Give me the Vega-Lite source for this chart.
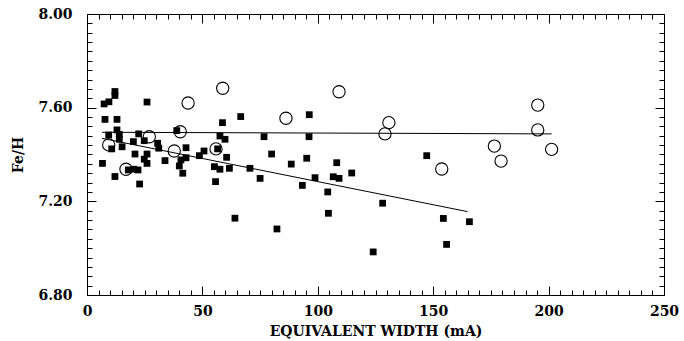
{
  "$schema": "https://vega.github.io/schema/vega-lite/v6.json",
  "width": 577,
  "height": 281,
  "autosize": {"type": "none"},
  "padding": {"left": 87, "top": 14, "right": 20, "bottom": 46},
  "background": "white",
  "config": {
    "view": {"stroke": "black", "strokeWidth": 1},
    "axis": {
      "grid": false,
      "domain": false,
      "ticks": true,
      "labelColor": "black",
      "titleColor": "black",
      "labelFont": "DejaVu Serif",
      "titleFont": "DejaVu Serif",
      "labelFontWeight": "bold",
      "titleFontWeight": "bold",
      "labelFontSize": 14,
      "titleFontSize": 14,
      "zindex": 1
    }
  },
  "datasets": {
    "squares": [
      {"ew": 7.4, "feh": 7.616}, {"ew": 9.5, "feh": 7.625}, {"ew": 12.1, "feh": 7.652}, {"ew": 12.1, "feh": 7.669},
      {"ew": 26.0, "feh": 7.624}, {"ew": 7.8, "feh": 7.550}, {"ew": 13.0, "feh": 7.550}, {"ew": 13.0, "feh": 7.505},
      {"ew": 9.4, "feh": 7.483}, {"ew": 14.0, "feh": 7.486}, {"ew": 14.0, "feh": 7.465}, {"ew": 15.2, "feh": 7.433},
      {"ew": 10.7, "feh": 7.424}, {"ew": 20.1, "feh": 7.455}, {"ew": 22.4, "feh": 7.488}, {"ew": 24.8, "feh": 7.459},
      {"ew": 30.6, "feh": 7.448}, {"ew": 31.1, "feh": 7.427}, {"ew": 20.8, "feh": 7.402}, {"ew": 26.0, "feh": 7.402},
      {"ew": 24.8, "feh": 7.380}, {"ew": 26.0, "feh": 7.362}, {"ew": 33.8, "feh": 7.374}, {"ew": 6.7, "feh": 7.362},
      {"ew": 17.9, "feh": 7.334}, {"ew": 20.2, "feh": 7.337}, {"ew": 22.1, "feh": 7.334}, {"ew": 12.1, "feh": 7.306},
      {"ew": 22.8, "feh": 7.274}, {"ew": 38.9, "feh": 7.502}, {"ew": 40.0, "feh": 7.351}, {"ew": 40.7, "feh": 7.377},
      {"ew": 41.5, "feh": 7.320}, {"ew": 42.9, "feh": 7.429}, {"ew": 50.7, "feh": 7.415}, {"ew": 48.7, "feh": 7.395},
      {"ew": 42.9, "feh": 7.386}, {"ew": 66.6, "feh": 7.562}, {"ew": 58.7, "feh": 7.536}, {"ew": 57.6, "feh": 7.479},
      {"ew": 59.8, "feh": 7.465}, {"ew": 76.7, "feh": 7.476}, {"ew": 56.6, "feh": 7.424}, {"ew": 60.5, "feh": 7.388},
      {"ew": 80.0, "feh": 7.402}, {"ew": 55.2, "feh": 7.348}, {"ew": 57.6, "feh": 7.337}, {"ew": 61.7, "feh": 7.341},
      {"ew": 70.6, "feh": 7.341}, {"ew": 75.0, "feh": 7.298}, {"ew": 55.7, "feh": 7.284}, {"ew": 64.1, "feh": 7.128},
      {"ew": 82.3, "feh": 7.082}, {"ew": 96.3, "feh": 7.570}, {"ew": 96.2, "feh": 7.476}, {"ew": 88.5, "feh": 7.359},
      {"ew": 95.2, "feh": 7.384}, {"ew": 108.2, "feh": 7.365}, {"ew": 98.8, "feh": 7.301}, {"ew": 106.7, "feh": 7.305},
      {"ew": 109.2, "feh": 7.298}, {"ew": 114.7, "feh": 7.321}, {"ew": 93.3, "feh": 7.268}, {"ew": 104.3, "feh": 7.240},
      {"ew": 128.1, "feh": 7.192}, {"ew": 104.6, "feh": 7.149}, {"ew": 124.0, "feh": 6.984}, {"ew": 147.2, "feh": 7.395},
      {"ew": 154.4, "feh": 7.127}, {"ew": 165.7, "feh": 7.113}, {"ew": 155.8, "feh": 7.016}
    ],
    "circles": [
      {"ew": 9.4, "feh": 7.441}, {"ew": 16.9, "feh": 7.337}, {"ew": 27.0, "feh": 7.476}, {"ew": 37.8, "feh": 7.415},
      {"ew": 40.4, "feh": 7.497}, {"ew": 43.8, "feh": 7.620}, {"ew": 58.8, "feh": 7.683}, {"ew": 55.9, "feh": 7.424},
      {"ew": 86.2, "feh": 7.555}, {"ew": 109.2, "feh": 7.668}, {"ew": 130.8, "feh": 7.536}, {"ew": 129.1, "feh": 7.488},
      {"ew": 153.7, "feh": 7.338}, {"ew": 176.5, "feh": 7.436}, {"ew": 179.4, "feh": 7.372}, {"ew": 195.3, "feh": 7.611},
      {"ew": 195.3, "feh": 7.505}, {"ew": 201.3, "feh": 7.422}
    ],
    "flat": [{"ew": 6.5, "feh": 7.495}, {"ew": 201.3, "feh": 7.488}],
    "slope": [{"ew": 6.5, "feh": 7.469}, {"ew": 164.9, "feh": 7.156}]
  },
  "resolve": {
    "scale": {"x": "shared", "y": "shared"},
    "axis": {"x": "independent", "y": "independent"}
  },
  "layer": [
    {
      "data": {"name": "squares"},
      "mark": {"type": "point", "shape": "square", "filled": true, "color": "black", "size": 46, "opacity": 1},
      "encoding": {
        "x": {"field": "ew", "type": "quantitative", "scale": {"domain": [0, 250], "nice": false, "zero": false},
          "axis": {"orient": "bottom", "values": [0, 50, 100, 150, 200, 250], "tickColor": "black", "tickWidth": 1, "tickSize": 9, "offset": -9, "labelPadding": 9, "title": "EQUIVALENT WIDTH (mA)", "titlePadding": 6, "labelFlush": false}},
        "y": {"field": "feh", "type": "quantitative", "scale": {"domain": [6.8, 8.0], "nice": false, "zero": false},
          "axis": {"orient": "left", "values": [6.8, 7.2, 7.6, 8.0], "tickColor": "black", "tickWidth": 1, "format": ".2f", "tickSize": 9, "offset": -9, "labelPadding": 15, "title": "Fe/H", "titlePadding": 12, "labelFlush": false}}
      }
    },
    {
      "data": {"name": "circles"},
      "mark": {"type": "point", "shape": "circle", "filled": false, "stroke": "black", "strokeWidth": 1.1, "size": 150, "opacity": 1},
      "encoding": {
        "x": {"field": "ew", "type": "quantitative",
          "axis": {"orient": "bottom", "values": [5,10,15,20,25,30,35,40,45,55,60,65,70,75,80,85,90,95,105,110,115,120,125,130,135,140,145,155,160,165,170,175,180,185,190,195,205,210,215,220,225,230,235,240,245], "tickColor": "black", "tickWidth": 1, "tickSize": 5, "offset": -5, "labels": false, "title": null}},
        "y": {"field": "feh", "type": "quantitative",
          "axis": {"orient": "left", "values": [6.84,6.88,6.92,6.96,7.0,7.04,7.08,7.12,7.16,7.24,7.28,7.32,7.36,7.4,7.44,7.48,7.52,7.56,7.64,7.68,7.72,7.76,7.8,7.84,7.88,7.92,7.96], "tickColor": "black", "tickWidth": 1, "tickSize": 5, "offset": -5, "labels": false, "title": null}}
      }
    },
    {
      "data": {"name": "flat"},
      "mark": {"type": "line", "color": "black", "strokeWidth": 1},
      "encoding": {
        "x": {"field": "ew", "type": "quantitative",
          "axis": {"orient": "top", "values": [0, 50, 100, 150, 200, 250], "tickColor": "black", "tickWidth": 1, "tickSize": 9, "offset": -9, "labels": false, "title": null}},
        "y": {"field": "feh", "type": "quantitative",
          "axis": {"orient": "right", "values": [6.8, 7.2, 7.6, 8.0], "tickColor": "black", "tickWidth": 1, "tickSize": 9, "offset": -9, "labels": false, "title": null}}
      }
    },
    {
      "data": {"name": "slope"},
      "mark": {"type": "line", "color": "black", "strokeWidth": 1},
      "encoding": {
        "x": {"field": "ew", "type": "quantitative",
          "axis": {"orient": "top", "values": [5,10,15,20,25,30,35,40,45,55,60,65,70,75,80,85,90,95,105,110,115,120,125,130,135,140,145,155,160,165,170,175,180,185,190,195,205,210,215,220,225,230,235,240,245], "tickColor": "black", "tickWidth": 1, "tickSize": 5, "offset": -5, "labels": false, "title": null}},
        "y": {"field": "feh", "type": "quantitative",
          "axis": {"orient": "right", "values": [6.84,6.88,6.92,6.96,7.0,7.04,7.08,7.12,7.16,7.24,7.28,7.32,7.36,7.4,7.44,7.48,7.52,7.56,7.64,7.68,7.72,7.76,7.8,7.84,7.88,7.92,7.96], "tickColor": "black", "tickWidth": 1, "tickSize": 5, "offset": -5, "labels": false, "title": null}}
      }
    }
  ]
}
